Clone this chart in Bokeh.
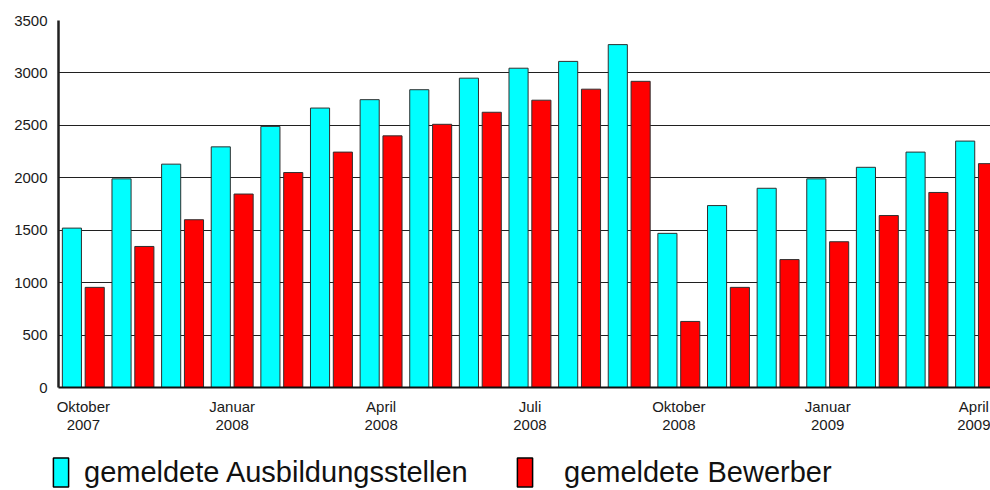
import numpy as np
from bokeh.plotting import figure
from bokeh.layouts import column, row
from bokeh.models import ColumnDataSource, Range1d, FixedTicker, Legend, LegendItem
from bokeh.transform import dodge
from bokeh.embed import file_html
from bokeh.resources import INLINE

# ---- data ----
months = ["Oktober\n2007", "November\n2007", "Dezember\n2007", "Januar\n2008", "Februar\n2008",
          "März\n2008", "April\n2008", "Mai\n2008", "Juni\n2008", "Juli\n2008", "August\n2008",
          "September\n2008", "Oktober\n2008", "November\n2008", "Dezember\n2008", "Januar\n2009",
          "Februar\n2009", "März\n2009", "April\n2009"]
stellen = [1520, 1990, 2130, 2295, 2490, 2665, 2745, 2840, 2950, 3045, 3110, 3270,
           1470, 1735, 1900, 1990, 2100, 2245, 2350]
bewerber = [955, 1345, 1600, 1845, 2050, 2245, 2400, 2510, 2625, 2740, 2845, 2920,
            630, 955, 1220, 1390, 1640, 1860, 2135]
series_names = ["gemeldete Ausbildungsstellen", "gemeldete Bewerber"]
y_ticks = [0, 500, 1000, 1500, 2000, 2500, 3000, 3500]
label_every = 3

FONT = "Liberation Sans"
CYAN = "#00FFFF"
RED = "#FF0000"
EDGE = "#303030"

idx = np.arange(len(months)) + 0.5
src = ColumnDataSource(dict(x=idx, stellen=stellen, bewerber=bewerber))

p = figure(width=990, height=440, output_backend="svg", toolbar_location=None,
           x_range=Range1d(0, 18.78), y_range=Range1d(0, 3500),
           min_border_left=58, min_border_right=0, min_border_top=20, min_border_bottom=53)
p.outline_line_color = None
p.background_fill_color = "white"

r1 = p.vbar(x=dodge("x", -0.23, range=p.x_range), top="stellen", width=0.385, bottom=0,
            source=src, fill_color=CYAN, line_color=EDGE, line_width=1)
r2 = p.vbar(x=dodge("x", 0.23, range=p.x_range), top="bewerber", width=0.385, bottom=0,
            source=src, fill_color=RED, line_color=EDGE, line_width=1)

# axes
p.yaxis.ticker = FixedTicker(ticks=y_ticks)
p.yaxis.major_tick_out = 0
p.yaxis.major_tick_in = 0
p.yaxis.minor_tick_out = 0
p.yaxis.minor_tick_in = 0
p.yaxis.major_label_standoff = 11
p.yaxis.axis_line_width = 2.5
p.yaxis.axis_line_color = "#202020"
p.yaxis.major_label_text_font = FONT
p.yaxis.major_label_text_font_size = "15px"
p.yaxis.major_label_text_color = "#1a1a1a"

tick_pos = [float(idx[i]) for i in range(0, len(months), label_every)]
p.xaxis.ticker = FixedTicker(ticks=tick_pos)
p.xaxis.major_label_overrides = {float(idx[i]): months[i] for i in range(0, len(months), label_every)}
p.xaxis.major_tick_out = 0
p.xaxis.major_tick_in = 0
p.xaxis.minor_tick_out = 0
p.xaxis.minor_tick_in = 0
p.xaxis.major_label_standoff = 10
p.xaxis.axis_line_width = 2
p.xaxis.axis_line_color = "#101010"
p.xaxis.major_label_text_font = FONT
p.xaxis.major_label_text_font_size = "15px"
p.xaxis.major_label_text_color = "#1a1a1a"
p.xaxis.major_label_text_line_height = 1.1

p.xgrid.grid_line_color = None
p.ygrid.ticker = FixedTicker(ticks=y_ticks)
p.ygrid.grid_line_color = "#202020"
p.ygrid.grid_line_width = 1

# ---- legend strip below ----
lf = figure(width=990, height=50, output_backend="svg", toolbar_location=None,
            x_range=Range1d(0, 1), y_range=Range1d(0, 1),
            x_axis_location=None, y_axis_location=None,
            min_border_left=0, min_border_right=0, min_border_top=0, min_border_bottom=0)
lf.outline_line_color = None
lf.xgrid.grid_line_color = None
lf.ygrid.grid_line_color = None
# swatch-only renderers (a single undefined point: nothing is drawn in the strip)
swatch = ColumnDataSource(dict(x=[np.nan], top=[np.nan]))
lr1 = lf.vbar(x="x", top="top", width=0.1, source=swatch,
              fill_color=CYAN, line_color="#000000", line_width=1.5)
lr2 = lf.vbar(x="x", top="top", width=0.1, source=swatch,
              fill_color=RED, line_color="#000000", line_width=1.5)


def make_legend(label, rend, loc, standoff):
    lg = Legend(items=[LegendItem(label=label, renderers=[rend])], location=loc,
                orientation="horizontal", glyph_width=19, glyph_height=36,
                label_standoff=standoff, padding=0, margin=0, spacing=0,
                border_line_color=None, background_fill_alpha=0,
                label_text_font=FONT, label_text_font_size="29px",
                label_text_color="#111111")
    lf.add_layout(lg)


make_legend(series_names[0], lr1, (51, 0), 14)
make_legend(series_names[1], lr2, (515, 0), 30)

layout = column(p, row(lf, spacing=0), spacing=0)
open("out.html", "w").write(file_html(layout, INLINE))
